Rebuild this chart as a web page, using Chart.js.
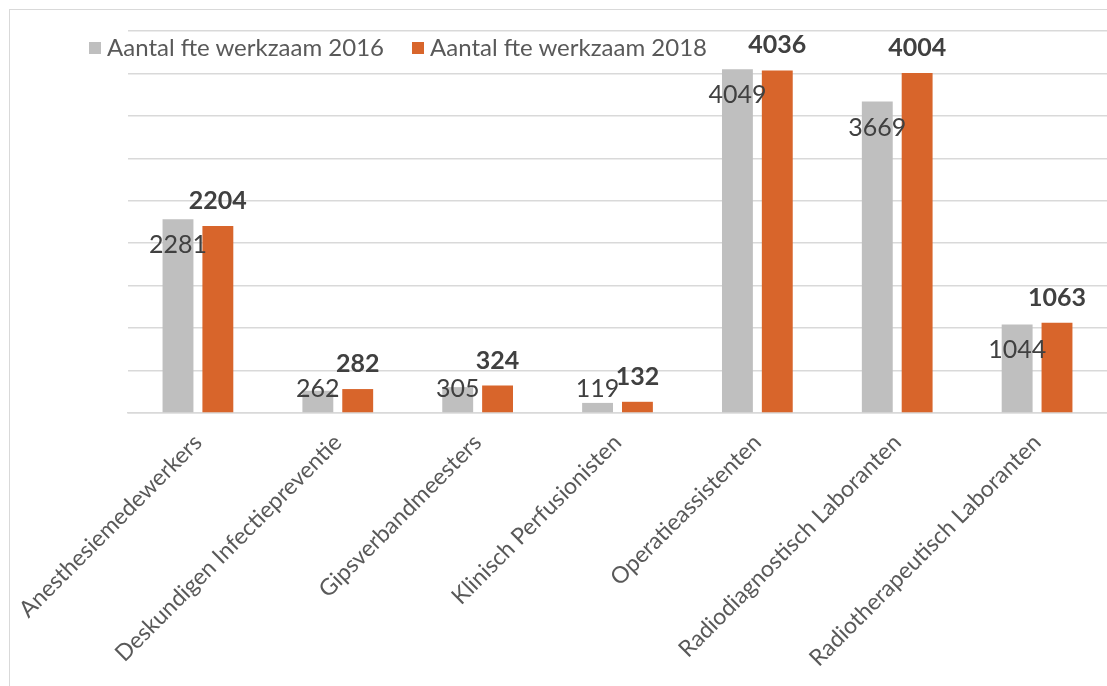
<!DOCTYPE html>
<html>
<head>
<meta charset="utf-8">
<script src="https://cdn.jsdelivr.net/npm/chart.js"></script>
<style>
html, body { margin: 0; padding: 0; background: #fff; overflow: hidden; }
#kader { position: absolute; left: 9px; top: 9px; width: 1200px; height: 800px; border: 1px solid #d9d9d9; }
#wrap { position: absolute; left: 0; top: 0; width: 1107px; height: 686px; }
.legenda { position: absolute; top: 32px; font-family: Lato, sans-serif; font-size: 24px; color: #595959; white-space: nowrap; }
.legenda span { display: inline-block; width: 12px; height: 12px; margin-right: 6px; vertical-align: 2px; }
</style>
</head>
<body>
<div id="kader"></div>
<div id="wrap"><canvas id="myChart"></canvas></div>
<div class="legenda" style="left:89px"><span style="background:#bfbfbf"></span>Aantal fte werkzaam 2016</div>
<div class="legenda" style="left:412px"><span style="background:#d8652b"></span>Aantal fte werkzaam 2018</div>
<script>
const beroepen = ['Anesthesiemedewerkers', 'Deskundigen Infectiepreventie', 'Gipsverbandmeesters',
    'Klinisch Perfusionisten', 'Operatieassistenten', 'Radiodiagnostisch Laboranten', 'Radiotherapeutisch Laboranten'];
const fte2016 = [2281, 262, 305, 119, 4049, 3669, 1044];
const fte2018 = [2204, 282, 324, 132, 4036, 4004, 1063];
const yMax = 4500;
const yStap = 500;

const grijs = '#bfbfbf';
const oranje = '#d8652b';

// labels: 2016 in de balk (normaal), 2018 boven de balk (vet)
const labelPlugin = {
    id: 'labels',
    afterDatasetsDraw(chart) {
        const ctx = chart.ctx;
        const basis = chart.scales.y.getPixelForValue(0);
        ctx.save();
        ctx.textAlign = 'center';
        ctx.textBaseline = 'middle';
        ctx.fillStyle = '#404040';
        chart.getDatasetMeta(0).data.forEach((bar, i) => {
            ctx.font = '25px Lato';
            ctx.fillText(fte2016[i], bar.x, Math.min(bar.y + 26, basis - 24));
        });
        chart.getDatasetMeta(1).data.forEach((bar, i) => {
            ctx.font = 'bold 25px Lato';
            ctx.fillText(fte2018[i], bar.x, bar.y - 25);
        });
        ctx.restore();
    }
};

let ctx = document.getElementById('myChart').getContext('2d');

const myChart = new Chart(ctx, {
    type: 'bar',
    data: {
        labels: beroepen,
        datasets: [{
            label: 'Aantal fte werkzaam 2016',
            data: fte2016,
            backgroundColor: grijs,
            categoryPercentage: 0.57,
            barPercentage: 0.775
        }, {
            label: 'Aantal fte werkzaam 2018',
            data: fte2018,
            backgroundColor: oranje,
            categoryPercentage: 0.57,
            barPercentage: 0.775
        }]
    },
    options: {
        responsive: true,
        maintainAspectRatio: false,
        animation: false,
        layout: { padding: { top: 31, right: 0, bottom: 0, left: 0 } },
        plugins: {
            legend: { display: false },
            tooltip: { enabled: false }
        },
        scales: {
            x: {
                grid: { display: false },
                border: { color: '#d9d9d9', width: 1.5 },
                ticks: {
                    autoSkip: false,
                    maxRotation: 45,
                    minRotation: 45,
                    padding: 8,
                    color: '#595959',
                    font: { family: 'Lato', size: 23 }
                },
                afterFit: (axis) => { axis.height = 273; }
            },
            y: {
                min: 0,
                max: yMax,
                ticks: { display: false, stepSize: yStap },
                grid: { color: '#d9d9d9', lineWidth: 1.5, drawTicks: false },
                border: { display: false },
                afterFit: (axis) => { axis.width = 128; }
            }
        }
    },
    plugins: [labelPlugin]
});
</script>
</body>
</html>
